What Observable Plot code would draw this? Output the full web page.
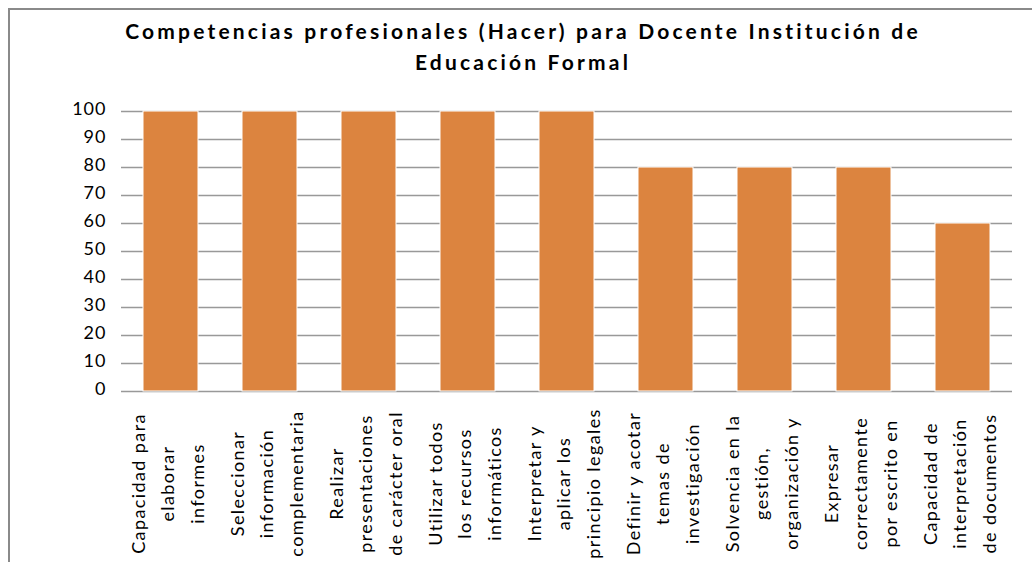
<!DOCTYPE html>
<html>
<head>
<meta charset="utf-8">
<script src="https://cdn.jsdelivr.net/npm/d3@7"></script>
<script src="https://cdn.jsdelivr.net/npm/@observablehq/plot@0.6"></script>
<style>
  html, body { margin: 0; padding: 0; background: #fff; }
  #wrap { position: relative; width: 1032px; height: 562px; overflow: hidden; background: #fff; }
  #frame { position: absolute; left: 8px; top: 8px; width: 1100px; height: 700px; border: 2px solid #8a8a8a; box-sizing: border-box; pointer-events: none; }
  #title { position: absolute; left: 0; top: 15px; width: 1046px; text-align: center;
           font-family: Lato, "Open Sans", sans-serif; font-weight: bold; font-size: 21px;
           letter-spacing: 3.2px; line-height: 31px; color: #000; }
  #chart { position: absolute; left: 0; top: 95px; }
</style>
</head>
<body>
<div id="wrap">
  <div id="chart"></div>
  <div id="title">Competencias profesionales (Hacer) para Docente Institución de<br>Educación Formal</div>
  <div id="frame"></div>
</div>
<script>
const categories = [
  "Capacidad para\nelaborar\ninformes",
  "Seleccionar\ninformación\ncomplementaria",
  "Realizar\npresentaciones\nde carácter oral",
  "Utilizar todos\nlos recursos\ninformáticos",
  "Interpretar y\naplicar los\nprincipio legales",
  "Definir y acotar\ntemas de\ninvestigación",
  "Solvencia en la\ngestión,\norganización y",
  "Expresar\ncorrectamente\npor escrito en",
  "Capacidad de\ninterpretación\nde documentos"
];
const values = [100, 100, 100, 100, 100, 80, 80, 80, 60];
const yTicks = [0, 10, 20, 30, 40, 50, 60, 70, 80, 90, 100];

const data = categories.map((c, i) => ({cat: c, value: values[i]}));

const chart = Plot.plot({
  width: 1032,
  height: 467,
  marginLeft: 121,
  marginRight: 20,
  marginTop: 16,
  marginBottom: 171,
  style: {fontFamily: "Lato, 'Open Sans', sans-serif", fontSize: "18px", background: "transparent", color: "#000"},
  x: {domain: categories, paddingInner: 0.444, paddingOuter: 0.222, axis: null},
  y: {domain: [0, 100], axis: null},
  marks: [
    Plot.ruleY(yTicks, {stroke: "#999", strokeWidth: 1.5}),
    Plot.barY(data, {x: "cat", y: "value", fill: "#DC843F", stroke: "#fff", strokeWidth: 1}),
    Plot.axisY(yTicks, {tickSize: 0, tickPadding: 15, fontSize: 18, dy: -2, label: null, tickFormat: d => String(d)}),
    Plot.text(data, {x: "cat", text: "cat", frameAnchor: "bottom", dy: 92, dx: -6, rotate: -90,
                     textAnchor: "middle", lineAnchor: "middle", lineHeight: 1.63, fontSize: 18, fill: "#000"})
  ]
});
chart.querySelectorAll('g[aria-label="text"] text').forEach(t => t.setAttribute("letter-spacing", "1.4"));
chart.querySelectorAll('g[aria-label="y-axis tick label"] text').forEach(t => t.setAttribute("letter-spacing", "1"));
document.getElementById("chart").appendChild(chart);
</script>
</body>
</html>
